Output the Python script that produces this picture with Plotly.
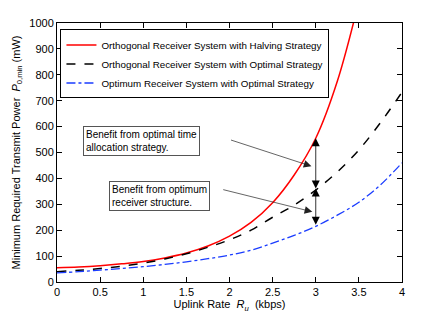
import plotly.graph_objects as go

# ---- data ----
rate = [0, 0.25, 0.5, 0.75, 1.0, 1.25, 1.5, 1.75, 2.0, 2.25, 2.5, 2.75, 3.0, 3.25, 3.5, 3.75, 4.0]
p_halving = [55, 58, 63, 70, 79, 93, 112, 139, 177, 230, 306, 413, 555, 775, 1084, None, None]
p_orth_opt = [40, 45, 52, 61, 73, 89, 109, 134, 163, 200, 250, 297, 355, 425, 510, 615, 733]
p_optimum = [35, 40, 46, 52, 59, 68, 78, 90, 104, 123, 150, 180, 215, 258, 308, 375, 460]

names = ["Orthogonal Receiver System with Halving Strategy",
         "Orthogonal Receiver System with Optimal Strategy",
         "Optimum Receiver System with Optimal Strategy"]
x_ticks = [0, 0.5, 1, 1.5, 2, 2.5, 3, 3.5, 4]
y_ticks = [0, 100, 200, 300, 400, 500, 600, 700, 800, 900, 1000]
arrow_rate = 3.0

FONT = "Liberation Sans, Arial, sans-serif"

fig = go.Figure()
fig.add_trace(go.Scatter(x=rate, y=p_halving, mode="lines", name=names[0],
                         line=dict(color="#ff0000", width=1.5, shape="spline")))
fig.add_trace(go.Scatter(x=rate, y=p_orth_opt, mode="lines", name=names[1],
                         line=dict(color="black", width=1.5, dash="dash", shape="spline")))
fig.add_trace(go.Scatter(x=rate, y=p_optimum, mode="lines", name=names[2],
                         line=dict(color="#1a3cff", width=1.3, dash="dashdot", shape="spline")))

i3 = rate.index(arrow_rate)
y_red, y_blk, y_blu = p_halving[i3], p_orth_opt[i3], p_optimum[i3]

annotations = []
# vertical double-headed arrows at R = 3
for top, bot in [(y_red, y_blk), (y_blk + 6, y_blu)]:
    annotations.append(dict(x=arrow_rate, y=top, ax=arrow_rate, ay=bot,
                            xref="x", yref="y", axref="x", ayref="y",
                            text="", showarrow=True, arrowhead=2, startarrowhead=2,
                            arrowside="end+start", arrowsize=2.0, startarrowsize=2.0,
                            arrowwidth=0.8, arrowcolor="black"))
# text boxes
annotations.append(dict(x=0.3, y=545, xref="x", yref="y", xanchor="left", yanchor="middle",
                        text="Benefit from optimal time<br>allocation strategy.", align="left",
                        showarrow=False, font=dict(family=FONT, size=10, color="black"),
                        bgcolor="white", bordercolor="#555555", borderwidth=1, borderpad=2))
annotations.append(dict(x=0.6, y=332, xref="x", yref="y", xanchor="left", yanchor="middle",
                        text="Benefit from optimum<br>receiver structure.", align="left",
                        showarrow=False, font=dict(family=FONT, size=10, color="black"),
                        bgcolor="white", bordercolor="#555555", borderwidth=1, borderpad=2))
# pointer arrows
annotations.append(dict(x=2.95, y=447, ax=2.0, ay=550, xref="x", yref="y", axref="x", ayref="y",
                        text="", showarrow=True, arrowhead=2, arrowsize=2.2, arrowwidth=0.7,
                        arrowcolor="#222222"))
annotations.append(dict(x=2.96, y=271, ax=1.91, ay=358, xref="x", yref="y", axref="x", ayref="y",
                        text="", showarrow=True, arrowhead=2, arrowsize=2.2, arrowwidth=0.7,
                        arrowcolor="#222222"))

fig.update_layout(
    width=443, height=319,
    margin=dict(l=49, r=49, t=15, b=45),
    paper_bgcolor="white", plot_bgcolor="white",
    font=dict(family=FONT, size=11, color="black"),
    showlegend=True,
    legend=dict(x=0.01, y=0.975, xanchor="left", yanchor="top",
                bgcolor="white", bordercolor="black", borderwidth=1,
                font=dict(family=FONT, size=9.8, color="black"),
                itemwidth=30, tracegroupgap=0),
    annotations=annotations,
)
fig.update_xaxes(range=[0, 4], tickvals=x_ticks, ticktext=[f"{v:g}" for v in x_ticks],
                 ticks="inside", ticklen=5, tickcolor="black", showline=True, linecolor="black",
                 linewidth=1, mirror="ticks", showgrid=False, zeroline=False, automargin=False,
                 title=dict(text="Uplink Rate  <i>R</i><sub><i>u</i></sub>  (kbps)",
                            font=dict(size=11), standoff=2))
fig.update_yaxes(range=[0, 1000], tickvals=y_ticks, ticks="inside", ticklen=5, tickcolor="black",
                 showline=True, linecolor="black", linewidth=1, mirror="ticks", showgrid=False,
                 zeroline=False, automargin=False,
                 title=dict(text="Minimum Required Transmit Power  <i>P</i><sub>0,min</sub> (mW)",
                            font=dict(size=11), standoff=6))

fig.write_html("out.html")
